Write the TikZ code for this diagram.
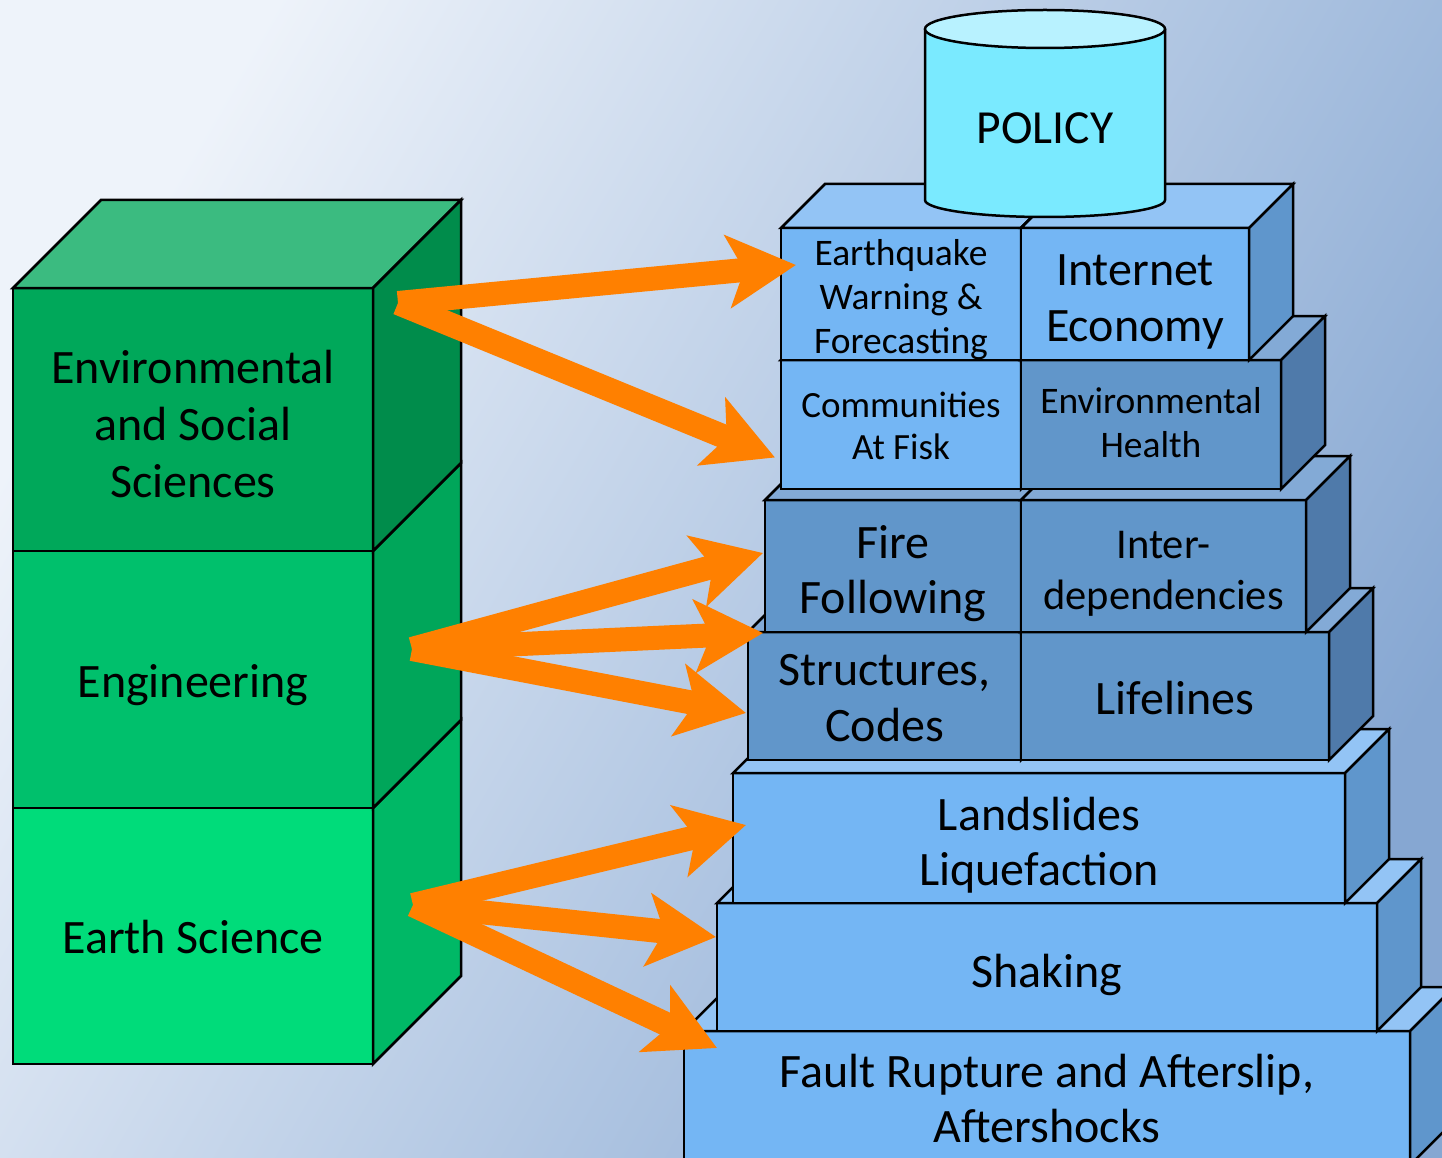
\documentclass[tikz,border=0pt]{standalone}
\usepackage{fontspec}
\setmainfont{Carlito}
\usetikzlibrary{arrows.meta}
\definecolor{bgA}{HTML}{EEF3FA}
\definecolor{bgB}{HTML}{86A7D2}
\definecolor{gTop}{HTML}{3BBB80}
\definecolor{gEnvF}{HTML}{00A85A}
\definecolor{gEnvS}{HTML}{008C4B}
\definecolor{gEngF}{HTML}{00C06C}
\definecolor{gEngS}{HTML}{00A65A}
\definecolor{gEarF}{HTML}{00DC7A}
\definecolor{gEarS}{HTML}{00B866}
\definecolor{lFront}{HTML}{74B6F4}
\definecolor{lTop}{HTML}{93C4F5}
\definecolor{lSide}{HTML}{5F96CC}
\definecolor{mFront}{HTML}{6196CA}
\definecolor{mTop}{HTML}{83AAD6}
\definecolor{mSide}{HTML}{4F7AAA}
\definecolor{cylTop}{HTML}{B8F2FF}
\definecolor{cylBody}{HTML}{7AEAFF}
\definecolor{arrOrange}{HTML}{FF8000}
\newcommand\myfs[2]{\fontsize{#1}{#2}\selectfont}
% faces of a 3D box: node name, depth, top colour, side colour
\newcommand\boxfaces[4]{%
  \filldraw[face, fill=#3] (#1.north west) -- ++(#2,-#2) -- ([shift={(#2,-#2)}]#1.north east) -- (#1.north east) -- cycle;
  \filldraw[face, fill=#4] (#1.north east) -- ++(#2,-#2) -- ([shift={(#2,-#2)}]#1.south east) -- (#1.south east) -- cycle;
}
\tikzset{
  face/.style={draw=black, line width=2.5pt, line join=miter},
  cell/.style={face, rectangle, inner sep=0pt, outer sep=0pt},
  txt/.style={align=center, text=black, inner sep=0pt},
  arr/.style={draw=arrOrange, line width=24pt, -{Stealth[length=68pt, width=72pt, inset=16pt]}},
}
\begin{document}
\begin{tikzpicture}[x=1pt,y=-1pt]
\useasboundingbox (0,0) rectangle (1442,1158);
\clip (0,0) rectangle (1442,1158);
\shade[top color=bgA, bottom color=bgB, shading angle=60] (-10,-10) rectangle (1452,1168);

% ---------- green stack ----------
\node[cell, fill=gEnvF, minimum width=360pt, minimum height=263pt] (env) at (193,419.5) {};
\node[cell, fill=gEngF, minimum width=360pt, minimum height=257pt] (eng) at (193,679.5) {};
\node[cell, fill=gEarF, minimum width=360pt, minimum height=256pt] (ear) at (193,936) {};
\filldraw[face, fill=gEarS] (ear.north east) -- ++(88,-88) -- ([shift={(88,-88)}]ear.south east) -- (ear.south east) -- cycle;
\filldraw[face, fill=gEngS] (eng.north east) -- ++(88,-88) -- ([shift={(88,-88)}]eng.south east) -- (eng.south east) -- cycle;
\boxfaces{env}{88}{gTop}{gEnvS}
\node[txt, font=\myfs{48}{57}] (envT) at ([shift={(0,5)}]env.center) {Environmental\\and Social\\Sciences};
\node[txt, font=\myfs{48}{57}] (engT) at ([shift={(0,6)}]eng.center) {Engineering};
\node[txt, font=\myfs{48}{57}] (earT) at ([shift={(0,1)}]ear.center) {Earth Science};

% ---------- pyramid (bottom to top) ----------
\node[cell, fill=lFront, minimum width=726pt, minimum height=134pt] (fr) at (1047,1098) {};
\boxfaces{fr}{44}{lTop}{lSide}
\node[txt, font=\myfs{48}{55}] (frT) at ([shift={(0,0)}]fr.center) {Fault Rupture and Afterslip,\\Aftershocks};
\node[cell, fill=lFront, minimum width=660pt, minimum height=128pt] (sh) at (1047,967) {};
\boxfaces{sh}{44}{lTop}{lSide}
\node[txt, font=\myfs{48}{55}] (shT) at ([shift={(0,8)}]sh.center) {Shaking};
\node[cell, fill=lFront, minimum width=612pt, minimum height=130pt] (ls) at (1039,838) {};
\boxfaces{ls}{44}{lTop}{lSide}
\node[txt, font=\myfs{48}{55}] (lsT) at ([shift={(0,7)}]ls.center) {Landslides\\Liquefaction};

\node[cell, fill=mFront, minimum width=273pt, minimum height=128pt] (sc) at (884.5,696) {};
\boxfaces{sc}{44}{mTop}{mSide}
\node[txt, font=\myfs{48}{56}] (scT) at ([shift={(0,2)}]sc.center) {Structures,\\Codes};
\node[cell, fill=mFront, minimum width=308pt, minimum height=128pt] (ll) at (1175,696) {};
\boxfaces{ll}{44}{mTop}{mSide}
\node[txt, font=\myfs{48}{56}] (llT) at ([shift={(0,2)}]ll.center) {Lifelines};

\node[cell, fill=mFront, minimum width=256pt, minimum height=132pt] (ff) at (893,566) {};
\boxfaces{ff}{44}{mTop}{mSide}
\node[txt, font=\myfs{48}{55}] (ffT) at ([shift={(0,8)}]ff.center) {Fire\\Following};
\node[cell, fill=mFront, minimum width=285pt, minimum height=132pt] (id) at (1163.5,566) {};
\boxfaces{id}{44}{mTop}{mSide}
\node[txt, font=\myfs{42.5}{51}] (idT) at ([shift={(0,8)}]id.center) {Inter-\\dependencies};

\node[cell, fill=lFront, minimum width=240pt, minimum height=129pt] (caf) at (901,424.5) {};
\boxfaces{caf}{44}{lTop}{lSide}
\node[txt, font=\myfs{37}{42}] (cafT) at ([shift={(0,1)}]caf.center) {Communities\\At Fisk};
\node[cell, fill=mFront, minimum width=260pt, minimum height=129pt] (eh) at (1151,424.5) {};
\boxfaces{eh}{44}{mTop}{mSide}
\node[txt, font=\myfs{37.5}{44}] (ehT) at ([shift={(0,-2)}]eh.center) {Environmental\\Health};

\node[cell, fill=lFront, minimum width=240pt, minimum height=132pt] (eq) at (901,294) {};
\boxfaces{eq}{44}{lTop}{lSide}
\node[txt, font=\myfs{37.5}{44}] (eqT) at ([shift={(0,6)}]eq.center) {Earthquake\\Warning \&\\Forecasting};
\node[cell, fill=lFront, minimum width=228pt, minimum height=132pt] (ie) at (1135,294) {};
\boxfaces{ie}{44}{lTop}{lSide}
\node[txt, font=\myfs{48}{56}] (ieT) at ([shift={(0,8)}]ie.center) {Internet\\Economy};

% ---------- POLICY cylinder ----------
\fill[cylBody] (925,29) rectangle (1165,200);
\filldraw[face, fill=cylBody] (925,29) -- (925,200) .. controls (925,209.4) and (978.7,217) .. (1045,217)
  .. controls (1111.3,217) and (1165,209.4) .. (1165,200) -- (1165,29);
\filldraw[face, fill=cylTop] (1045,29) ellipse [x radius=120, y radius=19];
\node[txt, font=\myfs{47.5}{56}] (policy) at (1045,128) {POLICY};

% ---------- arrows ----------
\coordinate (sA) at (398,303);
\coordinate (sB) at (412,649);
\coordinate (sC) at (413,905);
\draw[arr] (sA) -- ([shift={(15,-29)}]eq.west);
\draw[arr] (sA) -- ([shift={(-6,33)}]caf.west);
\draw[arr] (sB) -- ([shift={(-2,-13)}]ff.west);
\draw[arr] (sB) -- ([shift={(15,1)}]sc.north west);
\draw[arr] (sB) -- ([shift={(-2,17)}]sc.west);
\draw[arr] (sC) -- ([shift={(13,-13)}]ls.west);
\draw[arr] (sC) -- ([shift={(-1,-30)}]sh.west);
\draw[arr] (sC) -- ([shift={(33,17)}]fr.north west);
\end{tikzpicture}
\end{document}
